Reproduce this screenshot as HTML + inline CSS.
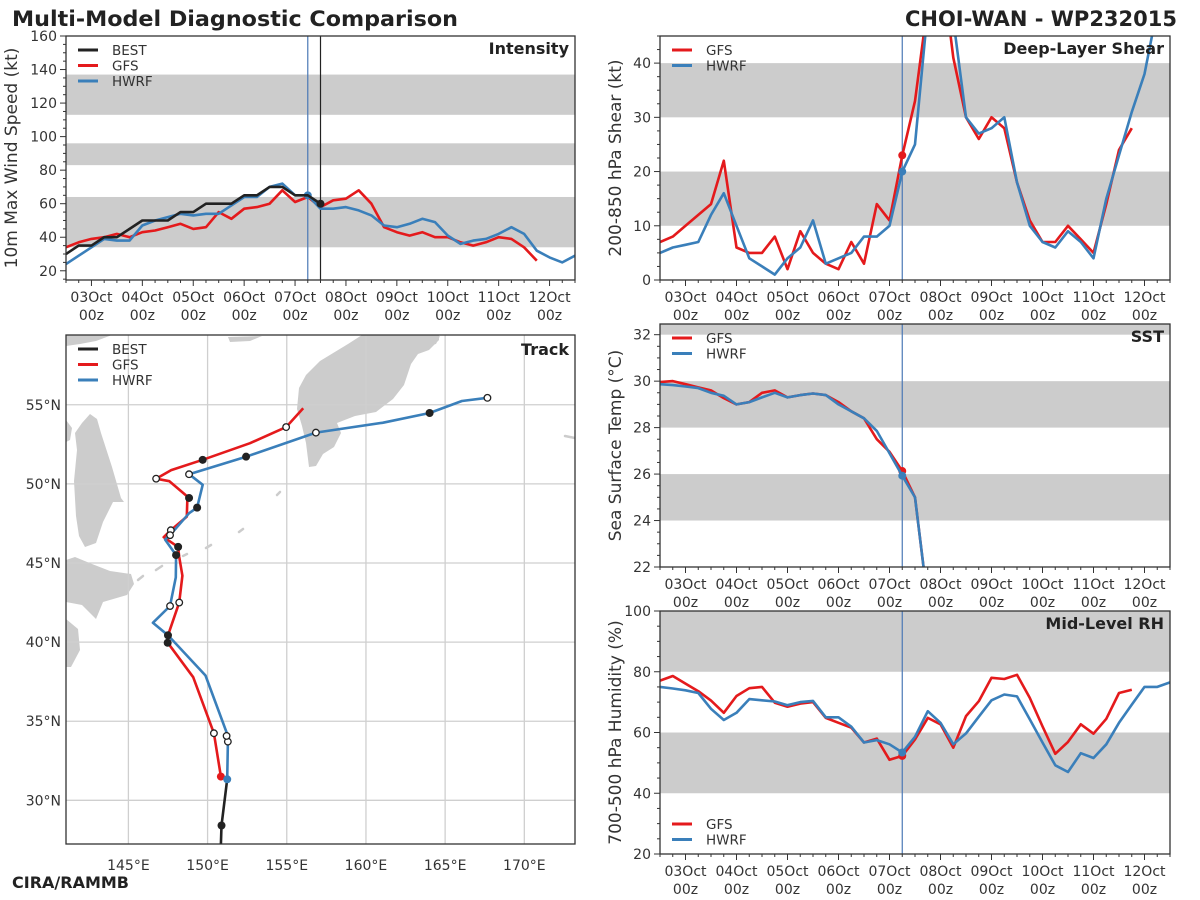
<!DOCTYPE html>
<html><head><meta charset="utf-8"><title>Multi-Model Diagnostic Comparison</title>
<style>
html,body{margin:0;padding:0;background:#fff;}
svg{display:block;font-family:"DejaVu Sans","Liberation Sans",sans-serif;}
</style></head>
<body>
<svg id="fig" xmlns="http://www.w3.org/2000/svg" width="1200" height="900" viewBox="0 0 1200 900">
<rect x="0" y="0" width="1200" height="900" fill="#fff"/>
<text x="12" y="26" font-size="21" font-weight="bold" fill="#222" textLength="446" lengthAdjust="spacingAndGlyphs">Multi-Model Diagnostic Comparison</text>
<text x="1177" y="26" font-size="21" font-weight="bold" fill="#222" text-anchor="end">CHOI-WAN - WP232015</text>
<text x="12" y="888" font-size="16" font-weight="bold" fill="#222">CIRA/RAMMB</text>
</svg>
<script>
// ---------- data ----------
const dayLabels = ["03Oct","04Oct","05Oct","06Oct","07Oct","08Oct","09Oct","10Oct","11Oct","12Oct"];
const seriesStartDay = -0.5;   // 02Oct 12z
const stepDays = 0.25;         // 6-hourly
const initDay = 4.25;          // 07Oct 06z
const bestEndDay = 4.5;

const intBest = [30,35,35,40,40,45,50,50,50,55,55,60,60,60,65,65,70,70,65,65,60];
const intGfs = [34,37,39,40,42,40,43,44,46,48,45,46,55,51,57,58,60,68,61,64,58,62,63,68,60,46,43,41,43,40,40,37,35,37,40,39,34,26];
const intHwrf = [24,29,34,39,38,38,47,50,52,54,53,54,54,59,64,64,70,72,65,65,57,57,58,56,53,47,46,48,51,49,41,36,38,39,42,46,42,32,28,25,29];
const intTicks = [20,40,60,80,100,120,140,160];
const intBands = [[34,64],[83,96],[113,137]];

const shearGfs = [7,8,10,12,14,22,6,5,5,8,2,9,5,3,2,7,3,14,11,23,33,51,60,41,30,26,30,28,18,11,7,7,10,7.5,5,14,24,28];
const shearHwrf = [5,6,6.5,7,12,16,10,4,2.5,1,4,6,11,3,4,5,8,8,10,20,25,50,65,48,30,27,28,30,18,10,7,6,9,7,4,15,23,31,38,50];
const shearTicks = [0,10,20,30,40];
const shearBands = [[10,20],[30,40]];

const sstGfs = [29.96,30.0,29.87,29.73,29.6,29.27,29.0,29.1,29.5,29.6,29.3,29.4,29.47,29.4,29.1,28.7,28.4,27.5,26.96,26.13,25.0,20.5];
const sstHwrf = [29.87,29.83,29.77,29.7,29.5,29.37,29.0,29.1,29.3,29.5,29.3,29.4,29.47,29.4,29.0,28.7,28.4,27.86,26.9,25.93,25.0,20.5];
const sstTicks = [22,24,26,28,30,32];
const sstBands = [[24,26],[28,30],[32,34]];

const rhGfs = [77.1,78.6,76.1,73.6,70.5,66.5,72,74.6,75,69.8,68.5,69.5,70,64.8,63.2,61.6,56.7,58,51,52.3,57.7,64.8,62.7,55,65.4,70.3,78,77.6,79,71.4,62,53,56.9,62.7,59.6,64.5,73,74.1];
const rhHwrf = [75,74.5,73.9,73,67.8,64.1,66.5,71,70.6,70.2,69,70,70.4,65,65,61.9,56.7,57.5,56.1,53.4,58.6,67,63.2,56.1,59.7,65.2,70.6,72.5,71.9,64.3,56.7,49.2,47,53.2,51.6,56.1,63.2,69.2,75,75,76.5];
const rhTicks = [20,40,60,80,100];
const rhBands = [[40,60],[80,100]];

// track data (lon E, lat N)
const bestLon = [150.84,150.88,151.24];
const bestLat = [27.24,28.41,31.33];
const gfsLon = [150.84,150.40,149.09,147.48,147.50,148.21,148.41,148.21,148.14,147.23,147.68,148.69,148.72,148.83,147.59,146.75,147.70,149.69,152.68,154.96,156.04];
const gfsLat = [31.50,34.24,37.78,39.96,40.43,42.50,44.20,45.39,46.02,46.63,47.07,47.93,48.93,49.11,50.17,50.33,50.87,51.52,52.57,53.59,54.78];
const hwrfLon = [151.24,151.28,151.28,149.87,147.50,146.55,147.63,147.99,148.01,147.32,147.63,148.83,149.34,149.69,148.83,152.43,156.84,161.08,164.02,166.06,167.67];
const hwrfLat = [31.33,33.71,34.07,37.89,40.43,41.22,42.28,44.09,45.50,46.48,46.76,48.15,48.50,49.94,50.61,51.72,53.24,53.87,54.48,55.24,55.44];
const filledLon = [150.88,147.48,147.50,148.14,148.83,149.69,152.43,148.01,149.34,164.02];
const filledLat = [28.41,39.96,40.43,46.02,49.11,51.52,51.72,45.50,48.50,54.48];
const openLon = [150.40,148.21,147.68,146.75,154.96,151.28,151.20,147.63,147.63,148.83,156.84,167.67];
const openLat = [34.24,42.50,47.07,50.33,53.59,33.71,34.07,42.28,46.76,50.61,53.24,55.44];
const lonTicks = [145,150,155,160,165,170];
const latTicks = [30,35,40,45,50,55];

// ---------- drawing ----------
const NS = 'http://www.w3.org/2000/svg';
const svg = document.getElementById('fig');
const RED = '#e41a1c', BLUE = '#3a7fba', BLACK = '#222222', BAND = '#cccccc';
function mk(tag, attrs, parent) {
  const e = document.createElementNS(NS, tag);
  for (const k in attrs) e.setAttribute(k, attrs[k]);
  (parent || svg).appendChild(e);
  return e;
}
function linear(d0, d1, r0, r1) { return v => r0 + (v - d0) * (r1 - r0) / (d1 - d0); }

let clipId = 0;
function panel(p) {
  const g = mk('g', {});
  
  
  const xs = linear(-0.5, 9.5, p.L, p.R);
  const ys = linear(p.ymin, p.ymax, p.B, p.T);
  clipId++;
  const cp = mk('clipPath', { id: 'c' + clipId }, g);
  mk('rect', { x: p.L, y: p.T, width: p.R - p.L, height: p.B - p.T }, cp);
  const inner = mk('g', { 'clip-path': 'url(#c' + clipId + ')' }, g);
  p.bands.forEach(b => {
    const r = mk('rect', { x: p.L, y: ys(b[1]), width: p.R - p.L, height: ys(b[0]) - ys(b[1]), fill: BAND }, inner);
    
    
  });
  const vl = mk('line', { x1: xs(initDay), x2: xs(initDay), y1: p.T, y2: p.B, stroke: '#4a78b5', 'stroke-width': 1.2 }, inner);
  
  
  if (p.bestLine) {
    const bl = mk('line', { x1: xs(bestEndDay), x2: xs(bestEndDay), y1: p.T, y2: p.B, stroke: BLACK, 'stroke-width': 1.2 }, inner);
    
    
  }
  p.series.forEach(s => {
    const pts = s.values.map((v, i) => xs(seriesStartDay + i * stepDays).toFixed(1) + ',' + ys(v).toFixed(1)).join(' ');
    const pl = mk('polyline', { points: pts, fill: 'none', stroke: s.color, 'stroke-width': 2.6, 'stroke-linejoin': 'round' }, inner);
    
    
    const idx = Math.round((s.dotDay - seriesStartDay) / stepDays);
    if (idx < s.values.length) {
      const c = mk('circle', { cx: xs(s.dotDay), cy: ys(s.values[idx]), r: 4, fill: s.color }, inner);
      
      
    }
  });
  const fr = mk('rect', { x: p.L, y: p.T, width: p.R - p.L, height: p.B - p.T, fill: 'none', stroke: '#333', 'stroke-width': 1.3 }, g);
  
  
  for (let q = -2; q <= 38; q++) {
    const t = q * 0.25;
    if (t < -0.5 || t > 9.5) continue;
    const major = q % 4 === 0;
    mk('line', { x1: xs(t), x2: xs(t), y1: p.B, y2: p.B + (major ? 6 : 3), stroke: '#333', 'stroke-width': 1 }, g);
  }
  dayLabels.forEach((lab, i) => {
    const t1 = mk('text', { x: xs(i), y: p.B + 22, 'font-size': 14, fill: '#333', 'text-anchor': 'middle' }, g);
    t1.textContent = lab;
    
    
    const t2 = mk('text', { x: xs(i), y: p.B + 40, 'font-size': 14, fill: '#333', 'text-anchor': 'middle' }, g);
    t2.textContent = '00z';
    
    
  });
  const step = p.ticks[1] - p.ticks[0];
  for (let v = p.ticks[0] - step; v <= p.ymax + 0.001; v += step / 4) {
    if (v < p.ymin) continue;
    const major = Math.abs(((v - p.ticks[0]) / step) - Math.round((v - p.ticks[0]) / step)) < 1e-6;
    mk('line', { x1: p.L, x2: p.L - (major ? 6 : 3), y1: ys(v), y2: ys(v), stroke: '#333', 'stroke-width': 1 }, g);
  }
  p.ticks.forEach(v => {
    const t = mk('text', { x: p.L - 9, y: ys(v) + 5, 'font-size': 14, fill: '#333', 'text-anchor': 'end' }, g);
    t.textContent = v;
    
    
  });
  const cy = (p.T + p.B) / 2;
  const yl = mk('text', { x: p.ylx, y: cy, 'font-size': 17, fill: '#333', 'text-anchor': 'middle', transform: 'rotate(-90 ' + p.ylx + ' ' + cy + ')' }, g);
  yl.textContent = p.ylabel;
  
  
  const ti = mk('text', { x: p.R - 6, y: p.T + 18, 'font-size': 16, 'font-weight': 'bold', fill: '#222', 'text-anchor': 'end' }, g);
  ti.textContent = p.title;
  
  
  legend(g, p.L, p.legY, p.legend);
}
function legend(g, L, y0, items) {
  items.forEach((it, i) => {
    const y = y0 + i * 15.5;
    const ln = mk('line', { x1: L + 12, x2: L + 32, y1: y, y2: y, stroke: it[1], 'stroke-width': 3 }, g);
    
    
    const t = mk('text', { x: L + 46, y: y + 5, 'font-size': 13.5, fill: '#333' }, g);
    t.textContent = it[0];
    
    
  });
}

panel({ name: 'intensity', L: 66, R: 575, T: 36, B: 280, ymin: 14.5, ymax: 160, ticks: intTicks, bands: intBands,
  bestLine: true, ylx: 17, ylabel: '10m Max Wind Speed (kt)', title: 'Intensity', legY: 50,
  legend: [['BEST', BLACK], ['GFS', RED], ['HWRF', BLUE]],
  series: [{ label: 'GFS', color: RED, values: intGfs, dotDay: 99 },
           { label: 'HWRF', color: BLUE, values: intHwrf, dotDay: initDay },
           { label: 'BEST', color: BLACK, values: intBest, dotDay: bestEndDay }] });
panel({ name: 'shear', L: 660, R: 1170, T: 36, B: 280, ymin: 0, ymax: 45, ticks: shearTicks, bands: shearBands,
  ylx: 621, ylabel: '200-850 hPa Shear (kt)', title: 'Deep-Layer Shear', legY: 50,
  legend: [['GFS', RED], ['HWRF', BLUE]],
  series: [{ label: 'GFS', color: RED, values: shearGfs, dotDay: initDay },
           { label: 'HWRF', color: BLUE, values: shearHwrf, dotDay: initDay }] });
panel({ name: 'sst', L: 660, R: 1170, T: 324, B: 567, ymin: 22, ymax: 32.46, ticks: sstTicks, bands: sstBands,
  ylx: 621, ylabel: 'Sea Surface Temp (°C)', title: 'SST', legY: 338,
  legend: [['GFS', RED], ['HWRF', BLUE]],
  series: [{ label: 'GFS', color: RED, values: sstGfs, dotDay: initDay },
           { label: 'HWRF', color: BLUE, values: sstHwrf, dotDay: initDay }] });
panel({ name: 'rh', L: 660, R: 1170, T: 611, B: 854, ymin: 20, ymax: 100, ticks: rhTicks, bands: rhBands,
  ylx: 621, ylabel: '700-500 hPa Humidity (%)', title: 'Mid-Level RH', legY: 824,
  legend: [['GFS', RED], ['HWRF', BLUE]],
  series: [{ label: 'GFS', color: RED, values: rhGfs, dotDay: initDay },
           { label: 'HWRF', color: BLUE, values: rhHwrf, dotDay: initDay }] });

// ---------- track map ----------
(function () {
  const L = 66, R = 575, T = 335, B = 844;
  const xs = linear(141.06, 173.2, L, R);
  const ys = linear(27.24, 59.41, B, T);
  const g = mk('g', {});
  
  
  const cp = mk('clipPath', { id: 'cmap' }, g);
  mk('rect', { x: L, y: T, width: R - L, height: B - T }, cp);
  const inner = mk('g', { 'clip-path': 'url(#cmap)' }, g);
  const land = [
    '362,335 348,344 320,361 306,375 299,388 297,409 302,426 306,443 309,467 316,466 323,454 334,447 341,433 337,423 355,416 376,412 393,399 404,385 411,364 418,354 429,350 439,340 439,335',
    '90,414 97,419 101,433 112,467 121,498 124,502 113,502 103,522 96,543 85,547 79,536 76,516 74,481 77,450 75,433 82,423',
    '66,560 75,557 92,564 110,571 131,574 134,584 127,595 103,602 96,619 82,605 66,602',
    '66,619 78,629 80,650 71,667 66,667',
    '66,335 112,335 96,341 80,344 66,346',
    '228,337 262,336 250,341 230,342',
    '424,340 440,336 436,344 426,346',
    '66,420 72,428 70,440 66,442'
  ];
  land.forEach(pts => {
    const pg = mk('polygon', { points: pts, fill: '#cccccc' }, inner);
    
    
  });
  const isl = [[280,492,277,495],[243,529,239,532],[211,545,206,548],[187,554,183,556],[162,566,156,570],[143,576,138,580],[565,436,575,438]];
  isl.forEach(s => {
    const l = mk('line', { x1: s[0], y1: s[1], x2: s[2], y2: s[3], stroke: '#cccccc', 'stroke-width': 2.5, 'stroke-linecap': 'round' }, inner);
    
    
  });
  lonTicks.forEach(v => {
    const l = mk('line', { x1: xs(v), x2: xs(v), y1: T, y2: B, stroke: '#cfcfcf', 'stroke-width': 1.3 }, inner);
    
    
    const t = mk('text', { x: xs(v), y: B + 26, 'font-size': 14, fill: '#333', 'text-anchor': 'middle' }, g);
    t.textContent = v + '°E';
    
    
  });
  latTicks.forEach(v => {
    const l = mk('line', { x1: L, x2: R, y1: ys(v), y2: ys(v), stroke: '#cfcfcf', 'stroke-width': 1.3 }, inner);
    
    
    const t = mk('text', { x: L - 5, y: ys(v) + 5, 'font-size': 14, fill: '#333', 'text-anchor': 'end' }, g);
    t.textContent = v + '°N';
    
    
  });
  function track(lons, lats, color, name) {
    const pts = lons.map((lo, i) => xs(lo).toFixed(1) + ',' + ys(lats[i]).toFixed(1)).join(' ');
    const pl = mk('polyline', { points: pts, fill: 'none', stroke: color, 'stroke-width': 2.6, 'stroke-linejoin': 'round' }, inner);
    
    
  }
  track(gfsLon, gfsLat, RED, 'gfs-track');
  track(hwrfLon, hwrfLat, BLUE, 'hwrf-track');
  track(bestLon, bestLat, BLACK, 'best-track');
  const s1 = mk('circle', { cx: xs(gfsLon[0]), cy: ys(gfsLat[0]), r: 4, fill: RED }, inner);
  
  
  const s2 = mk('circle', { cx: xs(hwrfLon[0]), cy: ys(hwrfLat[0]), r: 4, fill: BLUE }, inner);
  
  
  filledLon.forEach((lo, i) => {
    const c = mk('circle', { cx: xs(lo), cy: ys(filledLat[i]), r: 4, fill: BLACK }, inner);
    
    
  });
  openLon.forEach((lo, i) => {
    const c = mk('circle', { cx: xs(lo), cy: ys(openLat[i]), r: 3.3, fill: '#fff', stroke: BLACK, 'stroke-width': 1.3 }, inner);
    
    
  });
  const fr = mk('rect', { x: L, y: T, width: R - L, height: B - T, fill: 'none', stroke: '#333', 'stroke-width': 1.3 }, g);
  
  
  const ti = mk('text', { x: R - 6, y: T + 20, 'font-size': 16, 'font-weight': 'bold', fill: '#222', 'text-anchor': 'end' }, g);
  ti.textContent = 'Track';
  
  
  legend(g, L, 349, [['BEST', BLACK], ['GFS', RED], ['HWRF', BLUE]]);
})();
</script>
</body></html>
